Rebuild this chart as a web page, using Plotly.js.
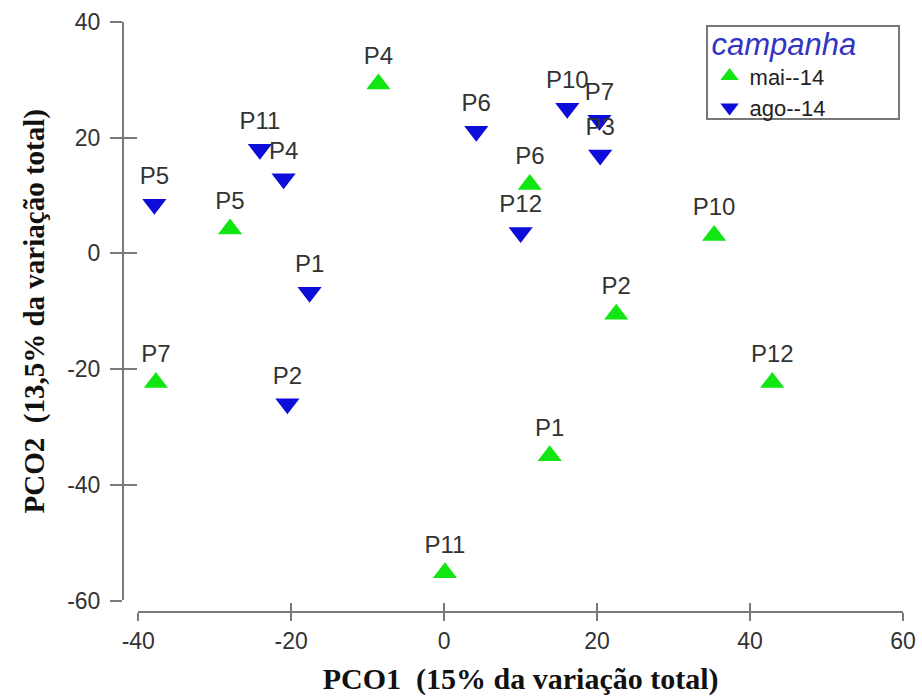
<!DOCTYPE html>
<html><head><meta charset="utf-8">
<script src="https://cdn.plot.ly/plotly-3.0.1.min.js"></script>
<style>html,body{margin:0;padding:0;background:#fff;}#chart{width:922px;height:696px;}</style>
</head><body><div id="chart"></div>
<script>
const maiLabels = ['P4','P6','P5','P10','P2','P7','P12','P1','P11'];
const maiX = [-8.6, 11.2, -28.0, 35.3, 22.5, -37.7, 42.9, 13.8, 0.1];
const maiY = [29.3, 11.9, 4.2, 3.1, -10.5, -22.3, -22.3, -35.0, -55.2];
const agoLabels = ['P5','P11','P4','P1','P2','P6','P10','P7','P3','P12'];
const agoX = [-37.9, -24.1, -21.0, -17.6, -20.5, 4.2, 16.1, 20.3, 20.4, 10.0];
const agoY = [8.5, 18.0, 12.9, -6.7, -26.0, 21.1, 25.1, 23.0, 17.0, 3.6];
const xTickVals = [-40, -20, 0, 20, 40, 60];
const xTickText = ['-40', '-20', '0', '20', '40', '60'];
const yTickVals = [-60, -40, -20, 0, 20, 40];
const yTickText = ['-60', '-40', '-20', '0', '20', '40'];

const fontSans = 'Arial, "Liberation Sans", sans-serif';
const fontSerif = '"Times New Roman", "Liberation Serif", serif';
const axisGray = '#7a7a7a';
const labelFont = {family: fontSans, size: 24, color: '#333'};

const traces = [
  {
    name: 'mai--14', x: maiX, y: maiY, text: maiLabels,
    type: 'scatter', mode: 'markers+text', textposition: 'top center',
    textfont: labelFont, cliponaxis: false,
    marker: {symbol: 'triangle-up', size: 21, color: '#12e612', line: {width: 0}},
    hoverinfo: 'x+y+text'
  },
  {
    name: 'ago--14', x: agoX, y: agoY, text: agoLabels,
    type: 'scatter', mode: 'markers+text', textposition: 'top center',
    textfont: labelFont, cliponaxis: false,
    marker: {symbol: 'triangle-down', size: 21, color: '#0d0dda', line: {width: 0}},
    hoverinfo: 'x+y+text'
  },
  {
    x: [], y: [], xaxis: 'x2', yaxis: 'y2', type: 'scatter', mode: 'markers',
    showlegend: false, hoverinfo: 'skip'
  }
];

const xDomain = [0.0196, 1];
const yDomain = [0.0195, 1];

const layout = {
  width: 922, height: 696,
  margin: {l: 123, r: 19, t: 22, b: 84, pad: 0},
  paper_bgcolor: '#ffffff', plot_bgcolor: 'rgba(0,0,0,0)',
  showlegend: true,
  xaxis: {
    domain: xDomain, range: [-40, 60], anchor: 'free', position: 0,
    showline: true, linecolor: axisGray, linewidth: 2,
    ticks: 'outside', ticklen: 8, tickwidth: 2, tickcolor: axisGray,
    tickmode: 'array', tickvals: xTickVals, ticktext: xTickText,
    tickfont: {family: fontSans, size: 23, color: '#333'},
    showgrid: false, zeroline: false, fixedrange: true,
    title: {text: 'PCO1\u00a0\u00a0(15% da variação total)', standoff: 16,
      font: {family: fontSerif, size: 30, color: '#111', weight: 700}}
  },
  yaxis: {
    domain: yDomain, range: [-60, 40], anchor: 'free', position: 0,
    showline: true, linecolor: axisGray, linewidth: 2,
    ticks: 'outside', ticklen: 12, tickwidth: 2, tickcolor: axisGray,
    tickmode: 'array', tickvals: yTickVals, ticktext: yTickText,
    tickfont: {family: fontSans, size: 23, color: '#333'},
    ticklabelstandoff: 5,
    showgrid: false, zeroline: false, fixedrange: true,
    title: {text: 'PCO2\u00a0\u00a0(13,5% da variação total)', standoff: 13,
      font: {family: fontSerif, size: 29, color: '#111', weight: 700}}
  },
  xaxis2: {
    domain: xDomain, range: [-40, 60], overlaying: 'x', anchor: 'free', position: 0,
    showline: false, ticks: 'inside', ticklen: 9, tickwidth: 2, tickcolor: axisGray,
    tickmode: 'array', tickvals: xTickVals, showticklabels: false,
    showgrid: false, zeroline: false, fixedrange: true
  },
  yaxis2: {
    domain: yDomain, range: [-60, 40], overlaying: 'y', anchor: 'free', position: 0,
    showline: false, ticks: 'inside', ticklen: 13, tickwidth: 2, tickcolor: axisGray,
    tickmode: 'array', tickvals: yTickVals, showticklabels: false,
    showgrid: false, zeroline: false, fixedrange: true
  },
  legend: {
    x: 0.752, y: 1.012, xanchor: 'left', yanchor: 'top',
    bgcolor: 'rgba(0,0,0,0)', borderwidth: 0,
    font: {family: fontSans, size: 22, color: '#222'},
    title: {text: 'campanha', side: 'top',
      font: {family: fontSans, size: 31, style: 'italic', color: '#3434c4'}},
    tracegroupgap: 0, itemclick: false, itemdoubleclick: false
  },
  shapes: [{
    type: 'rect', xref: 'paper', yref: 'paper',
    x0: 0.7487, x1: 0.9949, y0: 0.8356, y1: 0.9932,
    line: {color: '#777', width: 2}, fillcolor: 'rgba(0,0,0,0)', layer: 'above'
  }]
};

Plotly.newPlot('chart', traces, layout, {displayModeBar: false, staticPlot: false});
</script>
</body></html>
